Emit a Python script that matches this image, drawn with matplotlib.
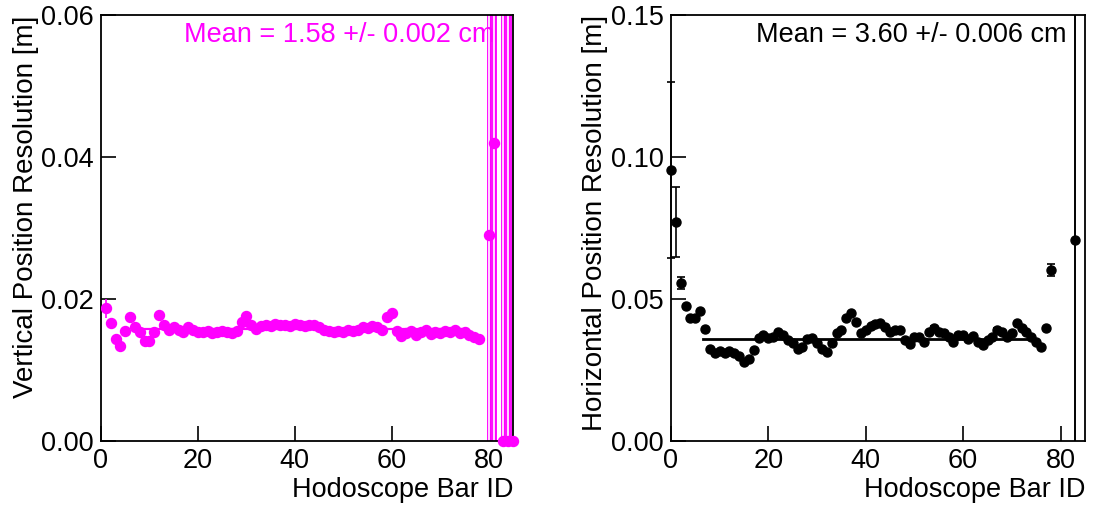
import numpy as np
import matplotlib
matplotlib.use("Agg")
import matplotlib.pyplot as plt

plt.rcParams['font.family'] = ['Liberation Sans', 'DejaVu Sans']

# ---- vertical resolution (left panel), bar IDs 1..78, then the bad bars
vert_ids = np.arange(1, 79)
vert_res = [
    0.0187, 0.0167, 0.0144, 0.0134, 0.0155, 0.0175, 0.0161, 0.0153, 0.0141, 0.0141,
    0.0154, 0.0178, 0.0163, 0.0156, 0.0161, 0.0156, 0.0153, 0.0161, 0.0156, 0.0153,
    0.0153, 0.0155, 0.0152, 0.0154, 0.0155, 0.0153, 0.0152, 0.0155, 0.0168, 0.0176,
    0.0163, 0.0158, 0.0162, 0.0164, 0.0162, 0.0165, 0.0163, 0.0164, 0.0162, 0.0165,
    0.0163, 0.0162, 0.0164, 0.0163, 0.0161, 0.0156, 0.0155, 0.0153, 0.0155, 0.0154,
    0.0156, 0.0155, 0.0157, 0.0161, 0.0160, 0.0162, 0.0161, 0.0157, 0.0175, 0.0180,
    0.0155, 0.0148, 0.0152, 0.0155, 0.0150, 0.0153, 0.0156, 0.0151, 0.0154, 0.0152,
    0.0155, 0.0153, 0.0156, 0.0152, 0.0153, 0.0150, 0.0147, 0.0144,
]
vert_err = [0.0013] + [0.0003] * 77
vert_bad_ids = [80, 81, 83, 84, 85]
vert_bad_res = [0.029, 0.042, 0.0, 0.0, 0.0]
vert_bad_err = [0.5, 0.5, 0.5, 0.5, 0.5]
vert_mean = 0.0158
vert_fit_range = [7.5, 75.5]

# ---- horizontal resolution (right panel), bar IDs 0..78, then bar 83
horiz_ids = np.arange(0, 79)
horiz_res = [
    0.0954, 0.0772, 0.0557, 0.0476, 0.0432, 0.0434, 0.0459, 0.0394, 0.0323, 0.0311,
    0.0317, 0.0311, 0.0317, 0.0311, 0.0299, 0.0279, 0.0288, 0.0320, 0.0362, 0.0373,
    0.0362, 0.0367, 0.0385, 0.0373, 0.0356, 0.0346, 0.0326, 0.0332, 0.0359, 0.0362,
    0.0344, 0.0323, 0.0315, 0.0346, 0.0379, 0.0391, 0.0432, 0.0450, 0.0420, 0.0381,
    0.0391, 0.0405, 0.0414, 0.0417, 0.0402, 0.0385, 0.0391, 0.0393, 0.0356, 0.0342,
    0.0365, 0.0368, 0.0350, 0.0385, 0.0400, 0.0385, 0.0381, 0.0367, 0.0350, 0.0373,
    0.0373, 0.0358, 0.0370, 0.0350, 0.0338, 0.0356, 0.0365, 0.0393, 0.0385, 0.0365,
    0.0379, 0.0417, 0.0397, 0.0385, 0.0365, 0.0350, 0.0330, 0.0397, 0.0602,
]
horiz_err = [0.031, 0.0123, 0.002] + [0.0004] * 75 + [0.002]
horiz_bad_ids = [83]
horiz_bad_res = [0.071]
horiz_bad_err = [0.5]
horiz_mean = 0.0360
horiz_fit_range = [6.5, 74.5]

FS = 19.5


def style_axes(ax, yticks, ylabel):
    ax.set_xlim(0, 85)
    ax.set_ylim(yticks[0], yticks[-1])
    ax.set_xticks([0, 20, 40, 60, 80])
    ax.set_yticks(yticks)
    ax.yaxis.set_major_formatter(plt.FormatStrFormatter('%.2f'))
    ax.tick_params(direction='in', length=11, width=1.2, labelsize=FS,
                   top=False, right=False, pad=5)
    for s in ax.spines.values():
        s.set_linewidth(1.3)
    ax.set_xlabel('Hodoscope Bar ID', fontsize=FS, loc='right', labelpad=2)
    ax.set_ylabel(ylabel, fontsize=20, loc='top', labelpad=2)


fig = plt.figure(figsize=(10.94, 5.07), dpi=100)
ax1 = fig.add_axes([0.0923, 0.130, 0.3766, 0.840])
ax2 = fig.add_axes([0.6133, 0.130, 0.3784, 0.840])

# left panel
mag = '#ff00ff'
ax1.errorbar(vert_ids, vert_res, yerr=vert_err, fmt='o', color=mag, ms=7.2,
             elinewidth=1.2, capsize=0, zorder=3)
ax1.errorbar(vert_bad_ids, vert_bad_res, yerr=vert_bad_err, fmt='none',
             ecolor=mag, elinewidth=3.5, zorder=2)
ax1.vlines(vert_bad_ids, 0, 0.06, colors='white', linewidth=1.2, zorder=2.5)
ax1.plot(vert_bad_ids, vert_bad_res, 'o', color=mag, ms=7.2, clip_on=False, zorder=4)
ax1.plot(vert_fit_range, [vert_mean, vert_mean], color=mag, lw=1.6, zorder=2)
ax1.text(0.955, 0.985, 'Mean = 1.58 +/- 0.002 cm', transform=ax1.transAxes,
         ha='right', va='top', color=mag, fontsize=FS)
style_axes(ax1, [0.0, 0.02, 0.04, 0.06], 'Vertical Position Resolution [m]')

# right panel
ax2.errorbar(horiz_ids, horiz_res, yerr=horiz_err, fmt='o', color='black', ms=6.5,
             elinewidth=1.2, capsize=3, capthick=1.2, clip_on=False, zorder=3)
ax2.errorbar(horiz_bad_ids, horiz_bad_res, yerr=horiz_bad_err, fmt='o', color='black',
             ms=6.5, elinewidth=1.4, zorder=3)
ax2.plot(horiz_fit_range, [horiz_mean, horiz_mean], color='black', lw=2, zorder=2)
ax2.text(0.955, 0.985, 'Mean = 3.60 +/- 0.006 cm', transform=ax2.transAxes,
         ha='right', va='top', color='black', fontsize=FS)
style_axes(ax2, [0.0, 0.05, 0.10, 0.15], 'Horizontal Position Resolution [m]')

fig.savefig('out.png', dpi=100)
